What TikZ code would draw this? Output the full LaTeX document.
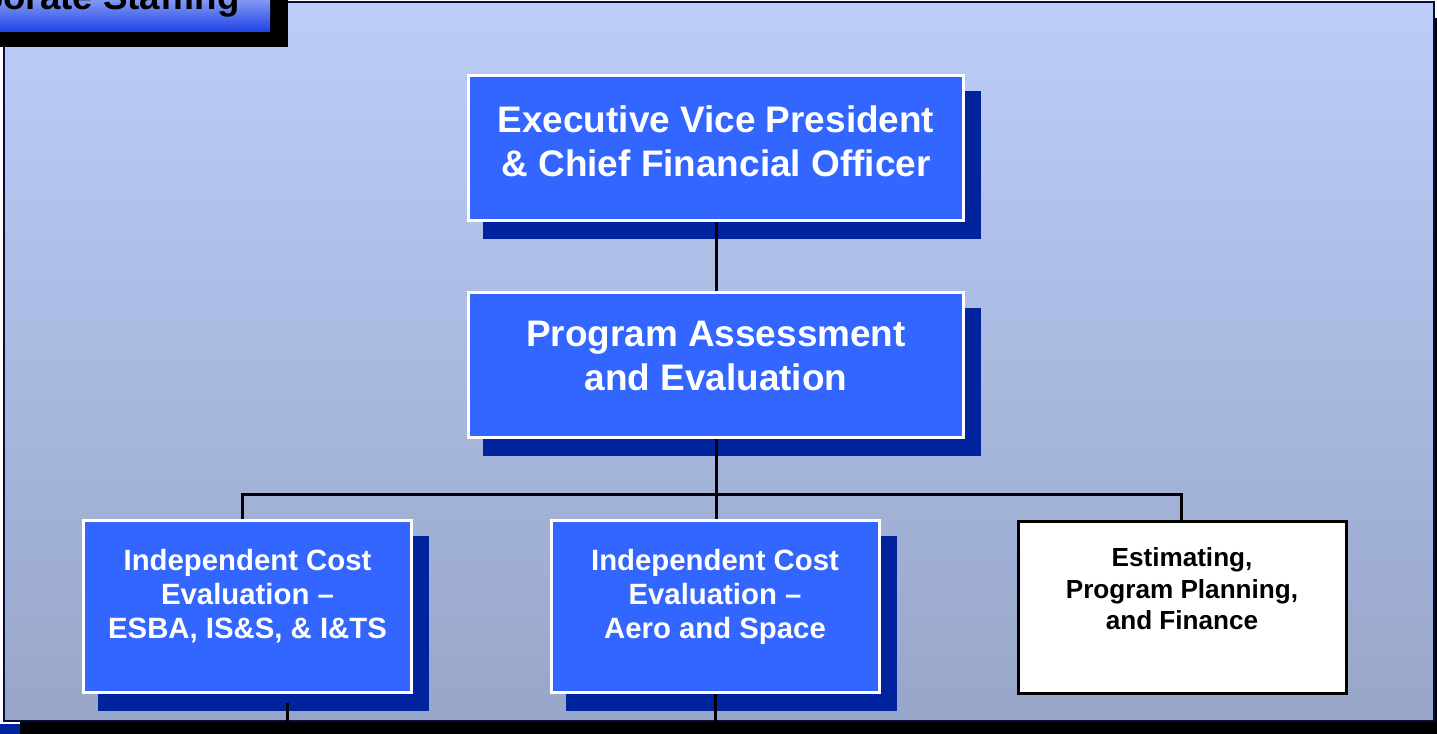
\documentclass[tikz,border=0pt]{standalone}
\usepackage{fontspec}
\setmainfont{Liberation Sans}
\definecolor{boxblue}{RGB}{51,102,255}
\definecolor{shadownavy}{RGB}{0,36,158}
\definecolor{frametop}{RGB}{188,205,249}
\definecolor{framebot}{RGB}{151,166,200}
\definecolor{frameline}{RGB}{8,12,60}
\definecolor{titletop}{RGB}{160,180,248}
\definecolor{titlebot}{RGB}{34,68,230}
\pgfdeclarelayer{back}
\pgfdeclarelayer{shadelayer}
\pgfsetlayers{back,shadelayer,main}

\tikzset{
  unitbox/.style={draw=white, line width=2.25pt, fill=boxblue, inner sep=0pt},
  plainbox/.style={draw=black, line width=2.25pt, fill=white, inner sep=0pt},
  wide/.style={minimum width=371.25pt, minimum height=108.75pt},
  narrow/.style={minimum width=246pt, minimum height=129pt},
  biglabel/.style={text=white, align=center, inner sep=0pt,
    font=\bfseries\fontsize{27.7}{33}\selectfont},
  midlabel/.style={text=white, align=center, inner sep=0pt,
    font=\bfseries\fontsize{22}{25.7}\selectfont},
  smalllabel/.style={text=black, align=center, inner sep=0pt,
    font=\bfseries\fontsize{19.6}{23.6}\selectfont},
  wire/.style={draw=black, line width=2.25pt},
}

% navy drop shadow behind a box, shifted right and down
\newcommand\navyshadow[1]{%
  \begin{pgfonlayer}{shadelayer}
    \fill[shadownavy] ([xshift=12pt,yshift=-12.75pt]#1.south west)
      rectangle ([xshift=12pt,yshift=-12.75pt]#1.north east);
  \end{pgfonlayer}}

\begin{document}
\begin{tikzpicture}[x=0.75pt,y=-0.75pt]
  \useasboundingbox (0,0) rectangle (1437,733);
  \clip (0,0) rectangle (1437,733);

  % outer panel with its black shadow
  \begin{pgfonlayer}{back}
    \fill[black] (20,18) rectangle (1470,760);
    \shade[top color=frametop, bottom color=framebot] (4,2) rectangle (1434,721);
    \draw[frameline, line width=1.5pt] (4,2) rectangle (1434,721);
    \fill[shadownavy] (0,724) rectangle (20,760);
  \end{pgfonlayer}

  % heading tab
  \fill[black] (-80,-10) rectangle (288,47);
  \shade[top color=titletop, bottom color=titlebot] (-80,-10) rectangle (270,31);
  \node[anchor=base east, inner sep=0pt, font=\bfseries\fontsize{27.5}{33}\selectfont]
    (ttl) at (240,9) {Corporate Staffing};

  % boxes
  \node[unitbox, wide]   (b1) at (716,148) {};
  \node[unitbox, wide]   (b2) at (716,365) {};
  \node[unitbox, narrow] (b3) at (247.5,606.5) {};
  \node[unitbox, narrow] (b4) at (715,606.5) {};
  \node[plainbox, narrow] (b5) at (1182,607) {};
  \navyshadow{b1}
  \navyshadow{b2}
  \navyshadow{b3}
  \navyshadow{b4}

  % labels
  \node[biglabel] (t1) at (716,141) {Executive Vice President\\\& Chief Financial Officer};
  \node[biglabel] (t2) at (716,356) {Program Assessment\\and Evaluation};
  \node[midlabel] (t3) at (247.5,596) {Independent Cost\\Evaluation --\\ESBA, IS\&S, \& I\&TS};
  \node[midlabel] (t4) at (715,597) {Independent Cost\\Evaluation --\\Aero and Space};
  \node[smalllabel] (t5) at (1182,589) {Estimating,\\Program Planning,\\and Finance};

  % connectors
  \coordinate (jl) at (242,494);
  \coordinate (jm) at (716,494);
  \coordinate (jr) at (1181,494);
  \draw[wire] (b1.south) -- (b2.north);
  \draw[wire] (b2.south) -- (jm);
  \draw[wire] (jl |- b3.north) -- (jl) -- (jr) -- (jr |- b5.north);
  \draw[wire] (jm) -- (jm |- b4.north);
  \coordinate (d3) at (287,703);
  \coordinate (d3e) at (287,722);
  \draw[wire] (d3) -- (d3e);
  \coordinate (d4e) at (715.5,722);
  \draw[wire] (b4.south -| d4e) -- (d4e);
\end{tikzpicture}
\end{document}
